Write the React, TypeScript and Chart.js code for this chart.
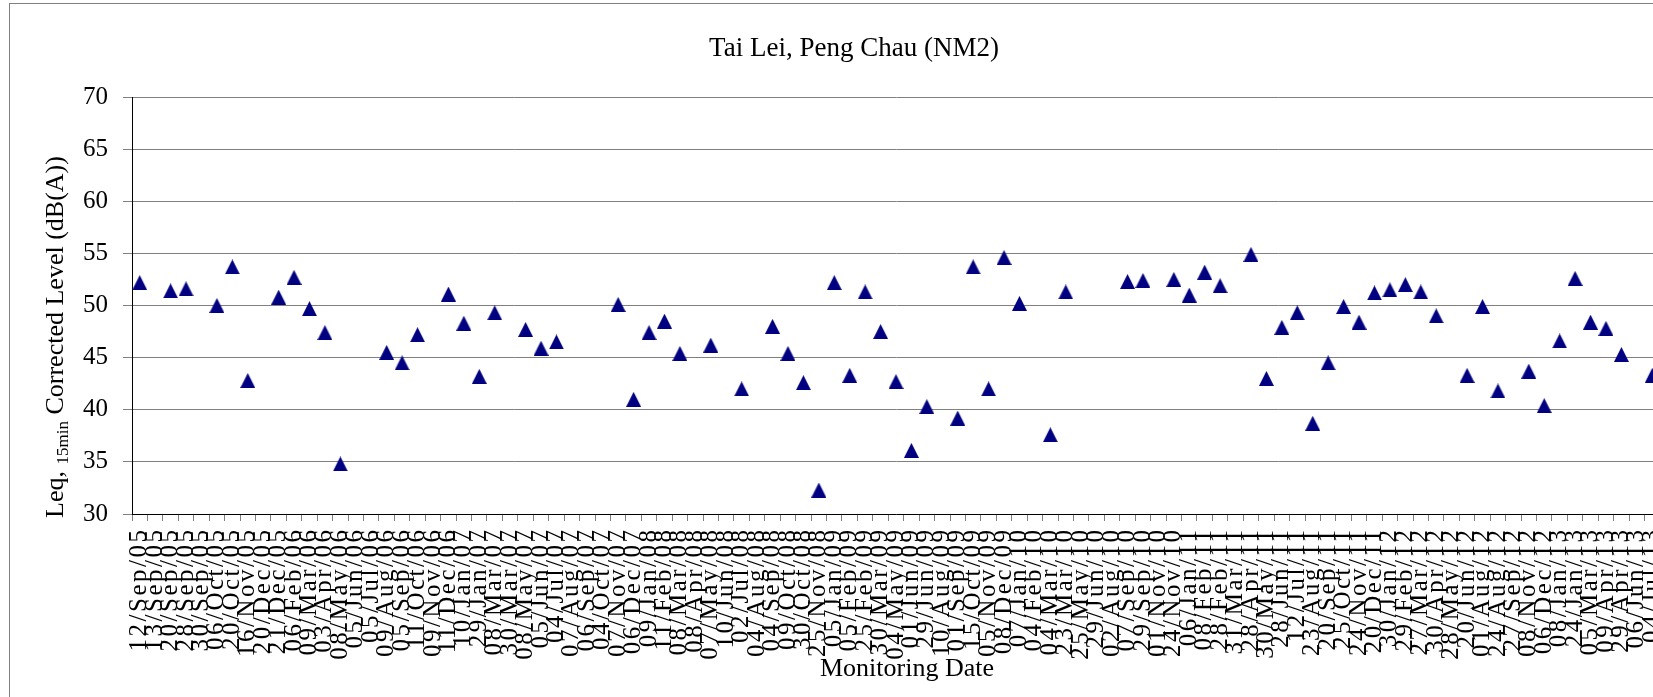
import React, { useEffect, useRef } from 'react';
import { Chart, registerables } from 'chart.js';

Chart.register(...registerables);

// ---------- data ----------
const categories: string[] = [
  '12/Sep/05', '13/Sep/05', '20/Sep/05', '28/Sep/05', '30/Sep/05', '06/Oct/05', '20/Oct/05', '16/Nov/05',
  '20/Dec/05', '21/Dec/05', '06/Feb/06', '09/Mar/06', '03/Apr/06', '08/May/06', '05/Jun/06', '05/Jul/06',
  '09/Aug/06', '05/Sep/06', '11/Oct/06', '09/Nov/06', '11/Dec/06', '10/Jan/07', '29/Jan/07', '08/Mar/07',
  '30/Mar/07', '08/May/07', '05/Jun/07', '04/Jul/07', '07/Aug/07', '06/Sep/07', '04/Oct/07', '07/Nov/07',
  '06/Dec/07', '09/Jan/08', '11/Feb/08', '08/Mar/08', '08/Apr/08', '07/May/08', '10/Jun/08', '02/Jul/08',
  '04/Aug/08', '04/Sep/08', '09/Oct/08', '30/Oct/08', '25/Nov/08', '05/Jan/09', '05/Feb/09', '25/Feb/09',
  '30/Mar/09', '04/May/09', '01/Jun/09', '29/Jun/09', '10/Aug/09', '01/Sep/09', '15/Oct/09', '05/Nov/09',
  '08/Dec/09', '07/Jan/10', '04/Feb/10', '04/Mar/10', '23/Mar/10', '25/May/10', '29/Jun/10', '02/Aug/10',
  '07/Sep/10', '29/Sep/10', '01/Nov/10', '24/Nov/10', '06/Jan/11', '08/Feb/11', '28/Feb/11', '31/Mar/11',
  '28/Apr/11', '30/May/11', '28/Jun/11', '12/Jul/11', '23/Aug/11', '20/Sep/11', '25/Oct/11', '24/Nov/11',
  '20/Dec/11', '30/Jan/12', '29/Feb/12', '27/Mar/12', '30/Apr/12', '28/May/12', '20/Jun/12', '01/Aug/12',
  '24/Aug/12', '27/Sep/12', '08/Nov/12', '06/Dec/12', '08/Jan/13', '24/Jan/13', '05/Mar/13', '09/Apr/13',
  '29/Apr/13', '06/Jun/13', '04/Jul/13',
];

const leqValues: (number | null)[] = [
  52.2, null, 51.4, 51.6, null, 50.0, 53.7, 42.8,
  null, 50.8, 52.7, 49.7, 47.4, 34.8, null, null,
  45.5, 44.5, 47.2, null, 51.1, 48.3, 43.2, 49.3,
  null, 47.7, 45.9, 46.5, null, null, null, 50.1,
  41.0, 47.4, 48.5, 45.4, null, 46.2, null, 42.0,
  null, 48.0, 45.4, 42.6, 32.3, 52.2, 43.3, 51.3,
  47.5, 42.7, 36.1, 40.3, null, 39.2, 53.7, 42.0,
  54.6, 50.2, null, 37.6, 51.3, null, null, null,
  52.3, 52.4, null, 52.5, 51.0, 53.2, 51.9, null,
  54.9, 43.0, 47.9, 49.3, 38.7, 44.5, 49.9, 48.4,
  51.2, 51.5, 52.0, 51.3, 49.0, null, 43.3, 49.9,
  41.8, null, 43.7, 40.4, 46.6, 52.6, 48.4, 47.8,
  45.3, null, 43.3,
];

const yTickValues: number[] = [30, 35, 40, 45, 50, 55, 60, 65, 70];

const chartTitle = 'Tai Lei, Peng Chau (NM2)';
const xAxisTitle = 'Monitoring Date';
const yAxisTitleParts: string[] = ['Leq, ', '15min', ' Corrected Level (dB(A))'];

// ---------- layout ----------
const VIEW_W = 1653;
const CANVAS_W = 1720;
const CANVAS_H = 697;
const PLOT = { left: 132, top: 97, right: 1660, bottom: 514 };
const SERIF = '"Liberation Serif", "Times New Roman", serif';
const NAVY = '#000080';
const LABEL_SPACING = 2.5;

function makeTriangle(): HTMLCanvasElement {
  const c = document.createElement('canvas');
  c.width = 15;
  c.height = 15;
  const g = c.getContext('2d')!;
  g.fillStyle = NAVY;
  g.beginPath();
  g.moveTo(7.5, 0);
  g.lineTo(15, 15);
  g.lineTo(0, 15);
  g.closePath();
  g.fill();
  return c;
}

const decorPlugin = {
  id: 'decor',
  beforeDraw(chart: any) {
    const ctx = chart.ctx;
    ctx.save();
    ctx.fillStyle = '#ffffff';
    ctx.fillRect(0, 0, chart.width, chart.height);
    ctx.strokeStyle = '#808080';
    ctx.lineWidth = 1;
    ctx.strokeRect(9.5, 3.5, 1690, 800);
    ctx.restore();
    // wider tracking for the x tick labels, approximating the original book face
    (ctx as any).letterSpacing = `${LABEL_SPACING}px`;
  },
  beforeDatasetsDraw(chart: any) {
    (chart.ctx as any).letterSpacing = '0px';
  },
  afterDraw(chart: any) {
    const ctx = chart.ctx;
    (ctx as any).letterSpacing = '0px';
    ctx.save();
    ctx.fillStyle = '#000000';
    ctx.textBaseline = 'alphabetic';
    ctx.textAlign = 'center';
    ctx.font = `27px ${SERIF}`;
    ctx.fillText(chartTitle, 854, 56);

    ctx.font = `26px ${SERIF}`;
    ctx.fillText(xAxisTitle, 907, 676);

    // y axis title with subscript
    const big = `26px ${SERIF}`;
    const small = `17px ${SERIF}`;
    ctx.font = big;
    const w0 = ctx.measureText(yAxisTitleParts[0]).width;
    const w2 = ctx.measureText(yAxisTitleParts[2]).width;
    ctx.font = small;
    const w1 = ctx.measureText(yAxisTitleParts[1]).width;
    const total = w0 + w1 + w2;
    ctx.translate(63, 337);
    ctx.rotate(-Math.PI / 2);
    ctx.textAlign = 'left';
    let x = -total / 2;
    ctx.font = big;
    ctx.fillText(yAxisTitleParts[0], x, 0);
    x += w0;
    ctx.font = small;
    ctx.fillText(yAxisTitleParts[1], x, 5);
    x += w1;
    ctx.font = big;
    ctx.fillText(yAxisTitleParts[2], x, 0);
    ctx.restore();
  },
};

export default function App() {
  const canvasRef = useRef<HTMLCanvasElement | null>(null);

  useEffect(() => {
    const canvas = canvasRef.current;
    if (!canvas) return;
    const tri = makeTriangle();
    const chart = new Chart(canvas, {
      type: 'line',
      data: {
        labels: categories,
        datasets: [
          {
            label: 'Leq 15min',
            data: leqValues,
            showLine: false,
            pointStyle: tri as any,
            pointRadius: 8,
            pointBackgroundColor: NAVY,
            pointBorderColor: NAVY,
          },
        ],
      },
      options: {
        responsive: false,
        animation: false,
        layout: {
          autoPadding: false,
          padding: { left: 0, top: PLOT.top, right: CANVAS_W - PLOT.right, bottom: 0 },
        },
        plugins: {
          legend: { display: false },
          title: { display: false },
          tooltip: { enabled: false },
        },
        scales: {
          x: {
            type: 'category',
            offset: true,
            grid: {
              offset: true,
              drawOnChartArea: false,
              drawTicks: true,
              tickLength: 7,
              color: '#808080',
            },
            border: { display: true, color: '#000000', width: 1 },
            ticks: {
              autoSkip: false,
              minRotation: 90,
              maxRotation: 90,
              padding: 9 - LABEL_SPACING,
              color: '#000000',
              font: { family: SERIF, size: 25 },
            },
            afterFit: (s: any) => {
              s.height = CANVAS_H - PLOT.bottom;
            },
          },
          y: {
            min: yTickValues[0],
            max: yTickValues[yTickValues.length - 1],
            afterBuildTicks: (s: any) => {
              s.ticks = yTickValues.map((v) => ({ value: v }));
            },
            ticks: {
              z: 1,
              padding: 15,
              color: '#000000',
              font: { family: SERIF, size: 25 },
            },
            grid: { color: '#808080', tickLength: 9 },
            border: { display: true, color: '#000000', width: 1 },
            afterFit: (s: any) => {
              s.width = PLOT.left;
            },
          },
        },
      },
      plugins: [decorPlugin],
    });
    return () => chart.destroy();
  }, []);

  return (
    <div
      style={{
        position: 'absolute',
        left: 0,
        top: 0,
        width: VIEW_W,
        height: CANVAS_H,
        overflow: 'hidden',
        background: '#fff',
      }}
    >
      <canvas ref={canvasRef} width={CANVAS_W} height={CANVAS_H} style={{ display: 'block' }} />
    </div>
  );
}
